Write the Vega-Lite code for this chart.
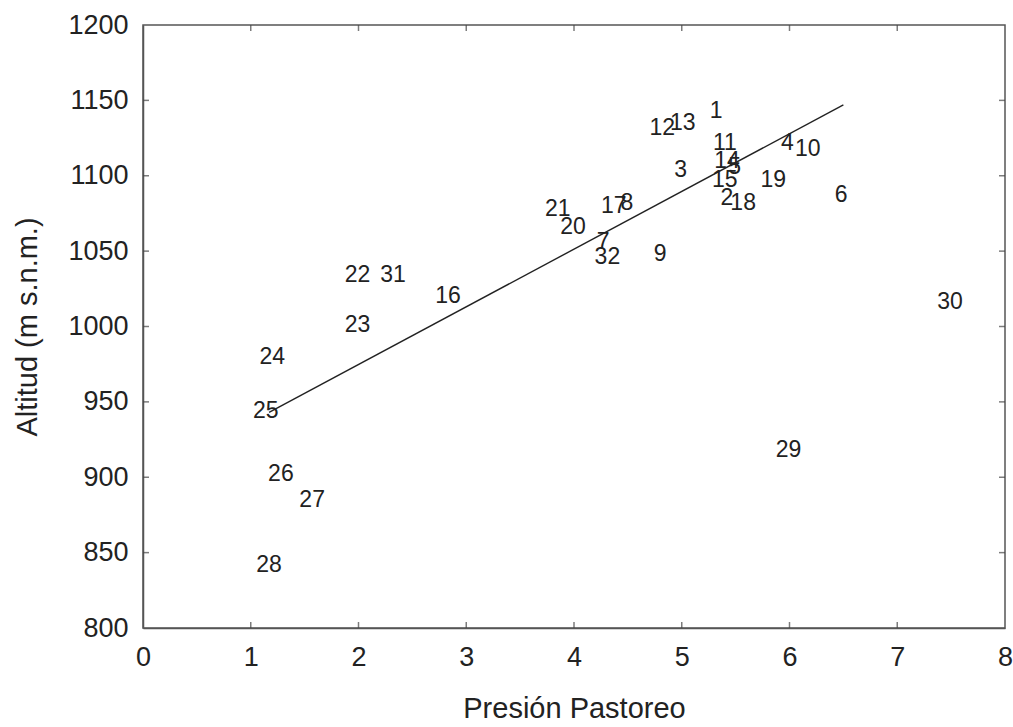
{
  "$schema": "https://vega.github.io/schema/vega-lite/v6.json",
  "autosize": {"type": "none"},
  "padding": {"left": 143, "top": 25, "right": 8, "bottom": 99},
  "width": 862,
  "height": 603,
  "background": "white",
  "config": {
    "font": "Liberation Sans",
    "view": {"stroke": "#555", "strokeWidth": 1.5},
    "axis": {
      "grid": false,
      "domainColor": "#555",
      "domainWidth": 1.5,
      "ticks": false,
      "labelFlush": false,
      "labelOverlap": false,
      "labelFont": "Liberation Sans",
      "labelFontSize": 27,
      "labelColor": "#222",
      "titleFont": "Liberation Sans",
      "titleFontSize": 29,
      "titleFontWeight": "normal",
      "titleColor": "#222"
    }
  },
  "datasets": {
    "pts": [
      {"id": "1", "x": 5.32, "y": 1143},
      {"id": "12", "x": 4.82, "y": 1132},
      {"id": "13", "x": 5.01, "y": 1135},
      {"id": "11", "x": 5.40, "y": 1122},
      {"id": "4", "x": 5.98, "y": 1122},
      {"id": "10", "x": 6.17, "y": 1118},
      {"id": "14", "x": 5.42, "y": 1110},
      {"id": "5", "x": 5.49, "y": 1106},
      {"id": "3", "x": 4.99, "y": 1104},
      {"id": "15", "x": 5.40, "y": 1097},
      {"id": "19", "x": 5.85, "y": 1097},
      {"id": "2", "x": 5.42, "y": 1085},
      {"id": "18", "x": 5.57, "y": 1082},
      {"id": "6", "x": 6.48, "y": 1087},
      {"id": "21", "x": 3.85, "y": 1078},
      {"id": "17", "x": 4.37, "y": 1080},
      {"id": "8", "x": 4.49, "y": 1082},
      {"id": "20", "x": 3.99, "y": 1066},
      {"id": "7", "x": 4.27, "y": 1056},
      {"id": "32", "x": 4.31, "y": 1046},
      {"id": "9", "x": 4.80, "y": 1048},
      {"id": "22", "x": 1.99, "y": 1034},
      {"id": "31", "x": 2.32, "y": 1034},
      {"id": "16", "x": 2.83, "y": 1020},
      {"id": "23", "x": 1.99, "y": 1001},
      {"id": "24", "x": 1.20, "y": 980},
      {"id": "25", "x": 1.14, "y": 944},
      {"id": "26", "x": 1.28, "y": 902},
      {"id": "27", "x": 1.57, "y": 885},
      {"id": "28", "x": 1.17, "y": 842},
      {"id": "29", "x": 5.99, "y": 918},
      {"id": "30", "x": 7.49, "y": 1016}
    ],
    "fit": [
      {"x": 1.17, "y": 943},
      {"x": 6.5, "y": 1147}
    ],
    "xt": [{"t": 1}, {"t": 2}, {"t": 3}, {"t": 4}, {"t": 5}, {"t": 6}, {"t": 7}],
    "yt": [{"t": 850}, {"t": 900}, {"t": 950}, {"t": 1000}, {"t": 1050}, {"t": 1100}, {"t": 1150}]
  },
  "layer": [
    {
      "data": {"name": "fit"},
      "mark": {"type": "line", "color": "#222", "strokeWidth": 1.4},
      "encoding": {
        "x": {"field": "x", "type": "quantitative", "scale": {"domain": [0, 8], "nice": false}, "axis": {"values": [0,1,2,3,4,5,6,7,8], "format": "d", "title": "Presión Pastoreo", "titlePadding": 24, "labelPadding": 16}},
        "y": {"field": "y", "type": "quantitative", "scale": {"domain": [800, 1200], "nice": false, "zero": false}, "axis": {"values": [800,850,900,950,1000,1050,1100,1150,1200], "format": "d", "title": "Altitud (m s.n.m.)", "titlePadding": 25, "labelPadding": 15}}
      }
    },
    {
      "data": {"name": "xt"},
      "mark": {"type": "tick", "orient": "vertical", "size": 12, "thickness": 1.5, "color": "#444", "clip": true},
      "encoding": {"x": {"field": "t", "type": "quantitative"}, "y": {"datum": 800}}
    },
    {
      "data": {"name": "xt"},
      "mark": {"type": "tick", "orient": "vertical", "size": 12, "thickness": 1.5, "color": "#444", "clip": true},
      "encoding": {"x": {"field": "t", "type": "quantitative"}, "y": {"datum": 1200}}
    },
    {
      "data": {"name": "yt"},
      "mark": {"type": "tick", "orient": "horizontal", "size": 12, "thickness": 1.5, "color": "#444", "clip": true},
      "encoding": {"y": {"field": "t", "type": "quantitative"}, "x": {"datum": 0}}
    },
    {
      "data": {"name": "yt"},
      "mark": {"type": "tick", "orient": "horizontal", "size": 12, "thickness": 1.5, "color": "#444", "clip": true},
      "encoding": {"y": {"field": "t", "type": "quantitative"}, "x": {"datum": 8}}
    },
    {
      "data": {"name": "pts"},
      "mark": {"type": "text", "fontSize": 23, "color": "#222", "font": "Liberation Sans", "align": "center", "baseline": "middle"},
      "encoding": {
        "x": {"field": "x", "type": "quantitative"},
        "y": {"field": "y", "type": "quantitative"},
        "text": {"field": "id"}
      }
    }
  ]
}
